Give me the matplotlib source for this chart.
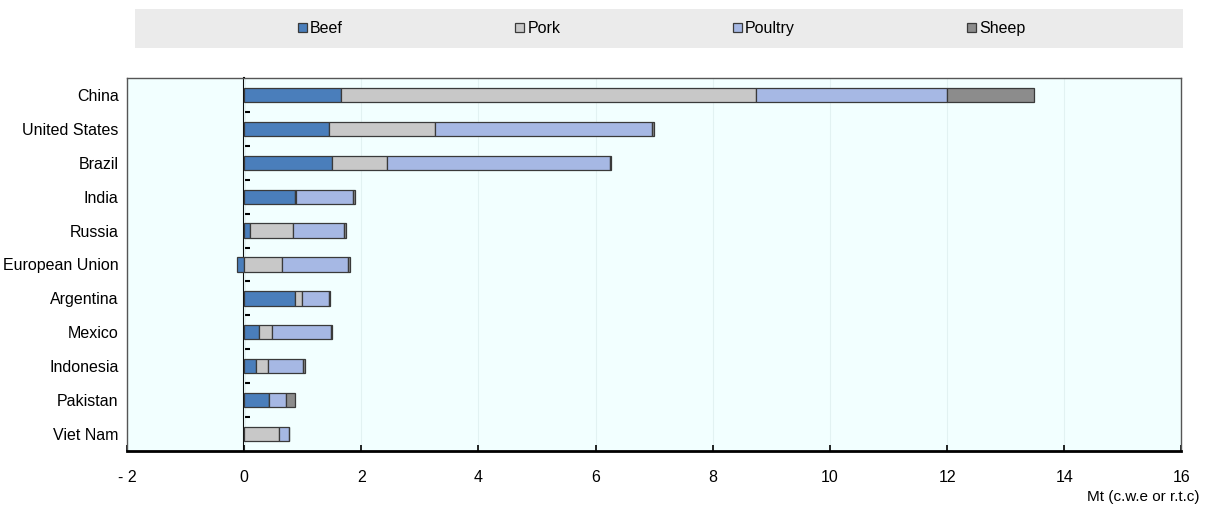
import matplotlib.pyplot as plt
from matplotlib.patches import Rectangle
import numpy as np

plt.rcParams['font.family'] = ['Liberation Sans', 'DejaVu Sans']

countries = ["China", "United States", "Brazil", "India", "Russia", "European Union",
             "Argentina", "Mexico", "Indonesia", "Pakistan", "Viet Nam"]
beef = [1.66, 1.44, 1.50, 0.86, 0.10, -0.13, 0.86, 0.26, 0.20, 0.43, 0.00]
pork = [7.07, 1.81, 0.93, 0.03, 0.73, 0.65, 0.12, 0.21, 0.20, 0.00, 0.60]
poultry = [3.27, 3.71, 3.81, 0.97, 0.88, 1.13, 0.47, 1.02, 0.60, 0.29, 0.16]
sheep = [1.49, 0.03, 0.02, 0.04, 0.02, 0.02, 0.02, 0.01, 0.04, 0.15, 0.00]
xticks = [-2, 0, 2, 4, 6, 8, 10, 12, 14, 16]
xticklabels = ["- 2", "0", "2", "4", "6", "8", "10", "12", "14", "16"]

series = [("Beef", beef, "#4a7ebb"), ("Pork", pork, "#c8c8c8"),
          ("Poultry", poultry, "#a6b8e4"), ("Sheep", sheep, "#8c8c8c")]

fig = plt.figure(figsize=(12.12, 5.11), dpi=100)
ax = fig.add_axes([0.1048, 0.1174, 0.8700, 0.7300])
ax.set_facecolor("#f2ffff")

y = np.arange(len(countries))
pos_left = np.zeros(len(countries))
neg_left = np.zeros(len(countries))
for name, vals, col in series:
    vals = np.array(vals)
    left = np.where(vals >= 0, pos_left, neg_left)
    ax.barh(y, vals, left=left, height=0.42, color=col, edgecolor="#3a3a3a",
            linewidth=0.9, label=name, zorder=3)
    pos_left += np.clip(vals, 0, None)
    neg_left += np.clip(vals, None, 0)

ax.set_ylim(len(countries) - 0.5, -0.5)
ax.set_xlim(-2, 16)
ax.set_yticks(y)
ax.set_yticklabels(countries, fontsize=11.5)
ax.tick_params(axis="y", length=0, pad=6)
ax.set_xticks(xticks)
ax.set_xticklabels(xticklabels, fontsize=11.5)
ax.tick_params(axis="x", direction="in", length=4, width=1.2, pad=14)
ax.grid(axis="x", color="#e2f2f2", linewidth=0.8, zorder=0)

for s in ["top", "right", "left"]:
    ax.spines[s].set_color("#555555")
    ax.spines[s].set_linewidth(1.0)
ax.spines["bottom"].set_linewidth(2.0)
ax.spines["bottom"].set_color("black")

# zero line with the small category ticks
zero = ax.secondary_yaxis(2 / 18)
zero.set_yticks(np.arange(len(countries) - 1) + 0.5)
zero.tick_params(direction="in", length=4, width=1.5, labelleft=False)
zero.spines["left"].set_linewidth(1.5)
zero.spines["left"].set_color("black")

# legend band
fig.patches.append(Rectangle((0.111, 0.906), 0.865, 0.076, transform=fig.transFigure,
                             facecolor="#ebebeb", edgecolor="none"))
fig.legend(loc="center", bbox_to_anchor=(0.546, 0.944), ncol=4, frameon=False,
           fontsize=11.5, handlelength=0.55, handleheight=0.55, handletextpad=0.2,
           columnspacing=10.8)

fig.text(0.990, 0.027, "Mt (c.w.e or r.t.c)", ha="right", va="center", fontsize=11)

fig.savefig("out.png")
